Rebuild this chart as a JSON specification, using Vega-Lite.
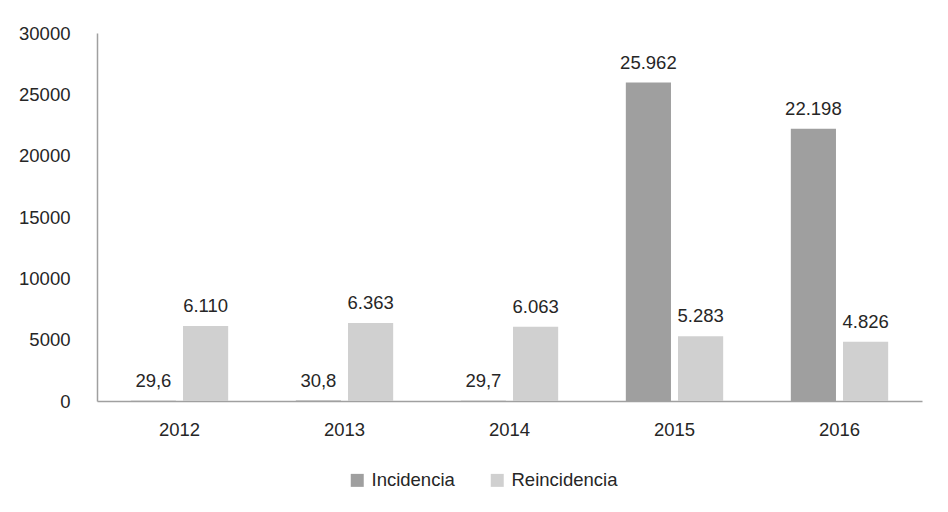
{
  "$schema": "https://vega.github.io/schema/vega-lite/v6.json",
  "width": 825,
  "height": 368,
  "autosize": {"type": "none"},
  "padding": {"left": 97, "top": 33, "right": 26, "bottom": 111},
  "background": "white",
  "config": {
    "view": {"stroke": null},
    "font": "Liberation Sans",
    "text": {"font": "Liberation Sans"}
  },
  "data": {
    "values": [
      {"year": "2012", "series": "Incidencia", "value": 29.6, "label": "29,6"},
      {"year": "2012", "series": "Reincidencia", "value": 6110, "label": "6.110"},
      {"year": "2013", "series": "Incidencia", "value": 30.8, "label": "30,8"},
      {"year": "2013", "series": "Reincidencia", "value": 6363, "label": "6.363"},
      {"year": "2014", "series": "Incidencia", "value": 29.7, "label": "29,7"},
      {"year": "2014", "series": "Reincidencia", "value": 6063, "label": "6.063"},
      {"year": "2015", "series": "Incidencia", "value": 25962, "label": "25.962"},
      {"year": "2015", "series": "Reincidencia", "value": 5283, "label": "5.283"},
      {"year": "2016", "series": "Incidencia", "value": 22198, "label": "22.198"},
      {"year": "2016", "series": "Reincidencia", "value": 4826, "label": "4.826"}
    ]
  },
  "encoding": {
    "x": {
      "field": "year",
      "type": "nominal",
      "scale": {"paddingInner": 0.41, "paddingOuter": 0.205},
      "axis": {
        "title": null,
        "labelAngle": 0,
        "ticks": false,
        "domainColor": "#a0a0a0",
        "domainWidth": 1.5,
        "labelFontSize": 18.5,
        "labelColor": "#262626",
        "labelPadding": 19
      }
    },
    "xOffset": {
      "field": "series",
      "type": "nominal",
      "sort": ["Incidencia", "Reincidencia"],
      "scale": {"paddingInner": 0.135, "paddingOuter": 0}
    },
    "y": {
      "field": "value",
      "type": "quantitative",
      "scale": {"domain": [0, 30000], "nice": false},
      "axis": {
        "title": null,
        "values": [0, 5000, 10000, 15000, 20000, 25000, 30000],
        "format": "d",
        "grid": false,
        "ticks": false,
        "domainColor": "#a0a0a0",
        "domainWidth": 1.5,
        "labelFontSize": 18.5,
        "labelColor": "#262626",
        "labelPadding": 27
      }
    }
  },
  "layer": [
    {
      "mark": {"type": "bar"},
      "encoding": {
        "color": {
          "field": "series",
          "type": "nominal",
          "scale": {"domain": ["Incidencia", "Reincidencia"], "range": ["#9f9f9f", "#d0d0d0"]},
          "legend": {
            "title": null,
            "orient": "none",
            "legendX": 251,
            "legendY": 438,
            "direction": "horizontal",
            "symbolType": "square",
            "symbolSize": 169,
            "symbolStrokeWidth": 0,
            "symbolOpacity": 1,
            "labelFontSize": 18.5,
            "labelColor": "#262626",
            "labelOffset": 5,
            "columnPadding": 33
          }
        }
      }
    },
    {
      "mark": {"type": "text", "baseline": "alphabetic", "dy": -14, "fontSize": 18.5, "color": "#262626"},
      "encoding": {"text": {"field": "label", "type": "nominal"}}
    }
  ]
}
